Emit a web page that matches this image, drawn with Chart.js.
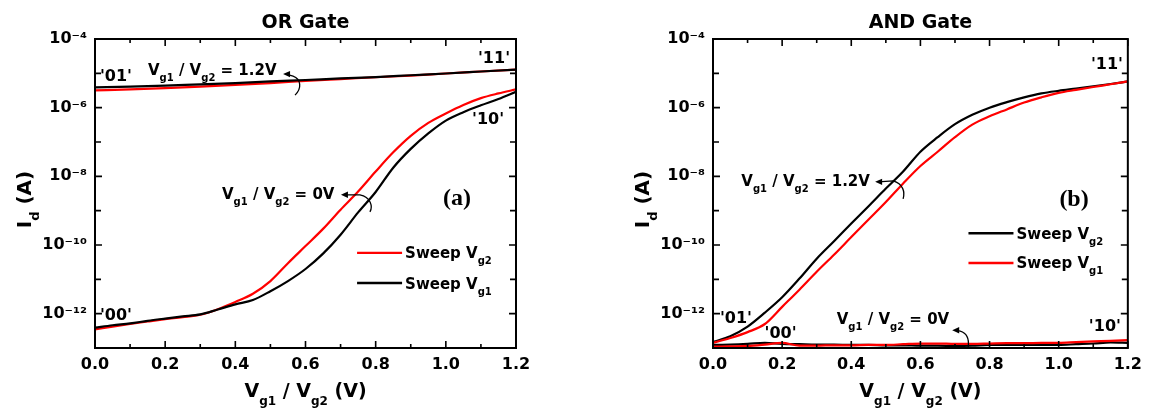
<!DOCTYPE html>
<html>
<head>
<meta charset="utf-8">
<script src="https://cdn.jsdelivr.net/npm/chart.js@4.4.1/dist/chart.umd.min.js"></script>
<style>
  html, body { margin: 0; padding: 0; background: #fff; }
  body { width: 1149px; height: 414px; position: relative; overflow: hidden; }
  .panel { position: absolute; top: 0; height: 414px; }
  #orBox { left: 0; width: 575px; }
  #andBox { left: 575px; width: 574px; }
</style>
</head>
<body>
<div class="panel" id="orBox"><canvas id="orChart"></canvas></div>
<div class="panel" id="andBox"><canvas id="andChart"></canvas></div>
<script>
// gate voltage of the swept input (V)
const vFine = [0, 0.05, 0.1, 0.15, 0.2, 0.25, 0.3, 0.35, 0.4, 0.45, 0.5, 0.55, 0.6,
               0.65, 0.7, 0.75, 0.8, 0.85, 0.9, 0.95, 1.0, 1.05, 1.1, 1.15, 1.2];
const vCoarse = [0, 0.1, 0.2, 0.3, 0.4, 0.5, 0.6, 0.7, 0.8, 0.9, 1.0, 1.1, 1.2];

// axis ticks
const xTicks = [0, 0.2, 0.4, 0.6, 0.8, 1.0, 1.2];
const decades = [1e-13, 1e-12, 1e-11, 1e-10, 1e-9, 1e-8, 1e-7, 1e-6, 1e-5, 1e-4];

// OR gate, other gate held at 1.2 V ('01' -> '11'), on vCoarse
const orHighVg2 = [3.2e-6, 3.4e-6, 3.7e-6, 4.1e-6, 4.6e-6, 5.2e-6, 6.0e-6, 6.8e-6, 7.7e-6, 8.6e-6, 9.9e-6, 1.13e-5, 1.29e-5];
const orHighVg1 = [3.9e-6, 4.1e-6, 4.4e-6, 4.8e-6, 5.2e-6, 5.8e-6, 6.4e-6, 7.1e-6, 7.8e-6, 8.8e-6, 9.9e-6, 1.13e-5, 1.29e-5];
// OR gate, other gate held at 0 V ('00' -> '10'), on vFine
const orLowVg2 = [3.5e-13, 4.2e-13, 5.0e-13, 5.9e-13, 6.9e-13, 7.9e-13, 9.3e-13, 1.35e-12, 2.2e-12, 3.8e-12,
                  8.9e-12, 2.95e-11, 9.3e-11, 2.95e-10, 1.07e-9, 3.6e-9, 1.38e-8, 5.0e-8, 1.51e-7, 3.6e-7,
                  6.8e-7, 1.2e-6, 1.9e-6, 2.6e-6, 3.4e-6];
const orLowVg1 = [3.9e-13, 4.6e-13, 5.2e-13, 6.2e-13, 7.2e-13, 8.3e-13, 9.5e-13, 1.32e-12, 1.86e-12, 2.5e-12,
                  4.5e-12, 8.9e-12, 2.0e-11, 5.6e-11, 2.0e-10, 8.9e-10, 3.5e-9, 1.78e-8, 6.3e-8, 1.78e-7,
                  4.2e-7, 7.4e-7, 1.17e-6, 1.78e-6, 2.9e-6];

// AND gate, other gate held at 1.2 V ('01' -> '11'), on vFine
const andHighVg2 = [1.5e-13, 2.2e-13, 4.2e-13, 1.07e-12, 3.0e-12, 1.05e-11, 4.0e-11, 1.29e-10, 4.2e-10, 1.35e-9,
                    4.4e-9, 1.38e-8, 5.2e-8, 1.38e-7, 3.3e-7, 6.2e-7, 1.0e-6, 1.45e-6, 2.0e-6, 2.6e-6,
                    3.1e-6, 3.6e-6, 4.2e-6, 4.9e-6, 5.8e-6];
const andHighVg1 = [1.41e-13, 1.95e-13, 2.9e-13, 5.0e-13, 1.58e-12, 5.0e-12, 1.66e-11, 5.2e-11, 1.7e-10, 5.5e-10,
                    1.78e-9, 6.2e-9, 2.0e-8, 5.2e-8, 1.38e-7, 3.2e-7, 5.6e-7, 8.9e-7, 1.41e-6, 2.0e-6,
                    2.7e-6, 3.3e-6, 4.0e-6, 4.8e-6, 5.8e-6];
// AND gate, other gate held at 0 V ('00' -> '10'), on vFine
const andLowVg2 = [1.23e-13, 1.26e-13, 1.32e-13, 1.41e-13, 1.32e-13, 1.29e-13, 1.26e-13, 1.26e-13, 1.23e-13, 1.23e-13,
                   1.20e-13, 1.20e-13, 1.17e-13, 1.17e-13, 1.15e-13, 1.17e-13, 1.23e-13, 1.23e-13, 1.23e-13, 1.23e-13,
                   1.23e-13, 1.29e-13, 1.35e-13, 1.45e-13, 1.41e-13];
const andLowVg1 = [1.10e-13, 1.12e-13, 1.15e-13, 1.26e-13, 1.41e-13, 1.17e-13, 1.17e-13, 1.20e-13, 1.20e-13, 1.23e-13,
                   1.23e-13, 1.29e-13, 1.35e-13, 1.35e-13, 1.32e-13, 1.32e-13, 1.35e-13, 1.38e-13, 1.38e-13, 1.41e-13,
                   1.41e-13, 1.48e-13, 1.55e-13, 1.62e-13, 1.70e-13];

const SANS = '"DejaVu Sans", sans-serif';
const SERIF = '"Liberation Serif", "DejaVu Serif", serif';
const RED = '#ff0000';
const BLACK = '#000000';

Chart.defaults.font.family = SANS;
Chart.defaults.font.weight = 'bold';
Chart.defaults.color = '#000';

const supMap = { '-': '\u207B', '0': '\u2070', '1': '\u00B9', '2': '\u00B2', '3': '\u00B3', '4': '\u2074',
                 '5': '\u2075', '6': '\u2076', '7': '\u2077', '8': '\u2078', '9': '\u2079' };
function powLabel(v) {
  const e = Math.round(Math.log10(v));
  if (e % 2 !== 0) return '';
  return '10' + String(e).split('').map(c => supMap[c]).join('');
}

function series(xs, ys) {
  return xs.map((v, i) => ({ x: v, y: ys[i] }));
}

// text with subscripts; parts = [[text, isSub], ...], y = baseline
function rich(ctx, parts, x, y, size, align) {
  const sub = Math.round(size * 0.64);
  const fontOf = s => `bold ${s ? sub : size}px ${SANS}`;
  let w = 0;
  for (const [t, s] of parts) { ctx.font = fontOf(s); w += ctx.measureText(t).width; }
  let cx = align === 'center' ? x - w / 2 : align === 'right' ? x - w : x;
  ctx.textAlign = 'left';
  ctx.textBaseline = 'alphabetic';
  for (const [t, s] of parts) {
    ctx.font = fontOf(s);
    ctx.fillText(t, cx, s ? y + size * 0.4 : y);
    cx += ctx.measureText(t).width;
  }
}

const decor = {
  id: 'decor',
  afterDatasetsDraw(chart, args, o) {
    const { ctx, chartArea: a, scales: { x, y } } = chart;
    const midX = (a.left + a.right) / 2;
    ctx.save();
    ctx.fillStyle = '#000';
    ctx.strokeStyle = '#000';

    // frame and inward ticks
    ctx.lineWidth = 2;
    ctx.strokeRect(a.left, a.top, a.right - a.left, a.bottom - a.top);
    ctx.lineWidth = 1.6;
    ctx.beginPath();
    vCoarse.forEach((v, i) => {
      const px = x.getPixelForValue(v);
      const len = i % 2 === 0 ? 7 : 4;
      ctx.moveTo(px, a.bottom); ctx.lineTo(px, a.bottom - len);
      ctx.moveTo(px, a.top); ctx.lineTo(px, a.top + len);
    });
    decades.forEach(v => {
      const py = y.getPixelForValue(v);
      const len = Math.round(Math.log10(v)) % 2 === 0 ? 7 : 6;
      ctx.moveTo(a.left, py); ctx.lineTo(a.left + len, py);
      ctx.moveTo(a.right, py); ctx.lineTo(a.right - len, py);
    });
    ctx.stroke();

    // panel title
    ctx.font = `bold 19px ${SANS}`;
    ctx.textAlign = 'center';
    ctx.textBaseline = 'alphabetic';
    ctx.fillText(o.title, midX, 28);

    // axis titles
    rich(ctx, [['V'], ['g1', 1], [' / V'], ['g2', 1], [' (V)']], midX, 397, 19, 'center');
    ctx.save();
    ctx.translate(a.left - 71, (a.top + a.bottom) / 2 + 6);
    ctx.rotate(-Math.PI / 2);
    rich(ctx, [['I'], ['d', 1], [' (A)']], 0, 7, 20, 'center');
    ctx.restore();

    // state labels
    o.labels.forEach(l => {
      const px = x.getPixelForValue(l.at[0]);
      const py = y.getPixelForValue(l.at[1]);
      rich(ctx, l.parts, px, py + l.size * 0.36, l.size, l.align || 'left');
    });

    // curved arrows
    ctx.lineWidth = 1.3;
    o.arrows.forEach(ar => {
      const tx = x.getPixelForValue(ar.at[0]);
      const ty = y.getPixelForValue(ar.at[1]);
      const [p1, c1, c2, p2] = ar.path;
      ctx.beginPath();
      ctx.moveTo(tx + 3, ty);
      ctx.lineTo(tx + p1[0], ty + p1[1]);
      ctx.bezierCurveTo(tx + c1[0], ty + c1[1], tx + c2[0], ty + c2[1], tx + p2[0], ty + p2[1]);
      ctx.stroke();
      ctx.beginPath();
      ctx.moveTo(tx, ty);
      ctx.lineTo(tx + 7, ty - 3.2);
      ctx.lineTo(tx + 7, ty + 3.2);
      ctx.closePath();
      ctx.fill();
    });

    // panel tag
    ctx.font = `bold 24px ${SERIF}`;
    ctx.textAlign = 'left';
    ctx.textBaseline = 'alphabetic';
    ctx.fillText(o.tag.text, x.getPixelForValue(o.tag.at[0]), y.getPixelForValue(o.tag.at[1]) + 6);

    // legend
    const lx = x.getPixelForValue(o.legend.at);
    o.legend.items.forEach(it => {
      const py = y.getPixelForValue(it.y);
      ctx.strokeStyle = it.color;
      ctx.lineWidth = 2.4;
      ctx.beginPath();
      ctx.moveTo(lx, py); ctx.lineTo(lx + 45, py);
      ctx.stroke();
      rich(ctx, [['Sweep V'], [it.sub, 1]], lx + 48, py + 5.5, 15, 'left');
    });
    ctx.restore();
  }
};

function makeChart(id, datasets, decorOpts, yWidth, rightPad) {
  return new Chart(document.getElementById(id), {
    type: 'line',
    data: { datasets },
    options: {
      responsive: true,
      maintainAspectRatio: false,
      animation: false,
      layout: { padding: { top: 39, right: rightPad, left: 0, bottom: 0 } },
      plugins: { legend: { display: false }, tooltip: { enabled: false }, decor: decorOpts },
      elements: {
        point: { radius: 0 },
        line: { borderWidth: 2.2, cubicInterpolationMode: 'monotone', fill: false }
      },
      scales: {
        x: {
          type: 'linear', min: 0, max: 1.2,
          grid: { display: false, drawTicks: false },
          border: { display: false },
          afterBuildTicks: s => { s.ticks = xTicks.map(v => ({ value: v })); },
          afterFit: s => { s.height = 66; },
          ticks: { padding: 7, autoSkip: false, maxRotation: 0, font: { size: 16, weight: 'bold' },
                   callback: v => v.toFixed(1) }
        },
        y: {
          type: 'logarithmic', min: 1e-13, max: 1e-4,
          grid: { display: false, drawTicks: false },
          border: { display: false },
          afterBuildTicks: s => { s.ticks = decades.map(v => ({ value: v })); },
          afterFit: s => { s.width = yWidth; },
          ticks: { padding: 8, autoSkip: false, font: { size: 16, weight: 'bold' },
                   callback: v => powLabel(v) }
        }
      }
    },
    plugins: [decor]
  });
}

const ratioLabel = v => [['V'], ['g1', 1], [' / V'], ['g2', 1], [' = ' + v]];

makeChart('orChart', [
  { label: 'Sweep Vg1', data: series(vFine, orLowVg1), borderColor: BLACK },
  { label: 'Sweep Vg1', data: series(vCoarse, orHighVg1), borderColor: BLACK },
  { label: 'Sweep Vg2', data: series(vFine, orLowVg2), borderColor: RED },
  { label: 'Sweep Vg2', data: series(vCoarse, orHighVg2), borderColor: RED }
], {
  title: 'OR Gate',
  labels: [
    { parts: [["'01'"]], at: [0.014, 8.9e-6], size: 16 },
    { parts: [["'11'"]], at: [1.183, 3.0e-5], size: 16, align: 'right' },
    { parts: [["'10'"]], at: [1.166, 5.0e-7], size: 16, align: 'right' },
    { parts: [["'00'"]], at: [0.014, 9.8e-13], size: 16 },
    { parts: ratioLabel('1.2V'), at: [0.151, 1.26e-5], size: 15 },
    { parts: ratioLabel('0V'), at: [0.362, 3.2e-9], size: 15 }
  ],
  arrows: [
    { at: [0.536, 9.5e-6], path: [[10, 2], [18, 5], [19, 14], [12, 21]] },
    { at: [0.701, 2.9e-9], path: [[19, 0], [30, 2], [32, 12], [29, 17]] }
  ],
  tag: { text: '(a)', at: [0.992, 2.2e-9] },
  legend: { at: 0.747, items: [{ color: RED, sub: 'g2', y: 5.9e-11 }, { color: BLACK, sub: 'g1', y: 7.8e-12 }] }
}, 95, 59);

makeChart('andChart', [
  { label: 'Sweep Vg1', data: series(vFine, andHighVg1), borderColor: RED },
  { label: 'Sweep Vg1', data: series(vFine, andLowVg1), borderColor: RED },
  { label: 'Sweep Vg2', data: series(vFine, andHighVg2), borderColor: BLACK },
  { label: 'Sweep Vg2', data: series(vFine, andLowVg2), borderColor: BLACK }
], {
  title: 'AND Gate',
  labels: [
    { parts: [["'11'"]], at: [1.186, 2.0e-5], size: 16, align: 'right' },
    { parts: [["'01'"]], at: [0.020, 8.1e-13], size: 16 },
    { parts: [["'00'"]], at: [0.149, 2.8e-13], size: 16 },
    { parts: [["'10'"]], at: [1.180, 4.7e-13], size: 16, align: 'right' },
    { parts: ratioLabel('1.2V'), at: [0.082, 7.7e-9], size: 15 },
    { parts: ratioLabel('0V'), at: [0.358, 7.4e-13], size: 15 }
  ],
  arrows: [
    { at: [0.469, 6.9e-9], path: [[18, -1], [28, 2], [30, 10], [28, 17]] },
    { at: [0.692, 3.3e-13], path: [[8, 1], [15, 3], [17, 9], [16, 17]] }
  ],
  tag: { text: '(b)', at: [1.002, 2.0e-9] },
  legend: { at: 0.739, items: [{ color: BLACK, sub: 'g2', y: 2.2e-10 }, { color: RED, sub: 'g1', y: 3.0e-11 }] }
}, 138, 17);
</script>
</body>
</html>
